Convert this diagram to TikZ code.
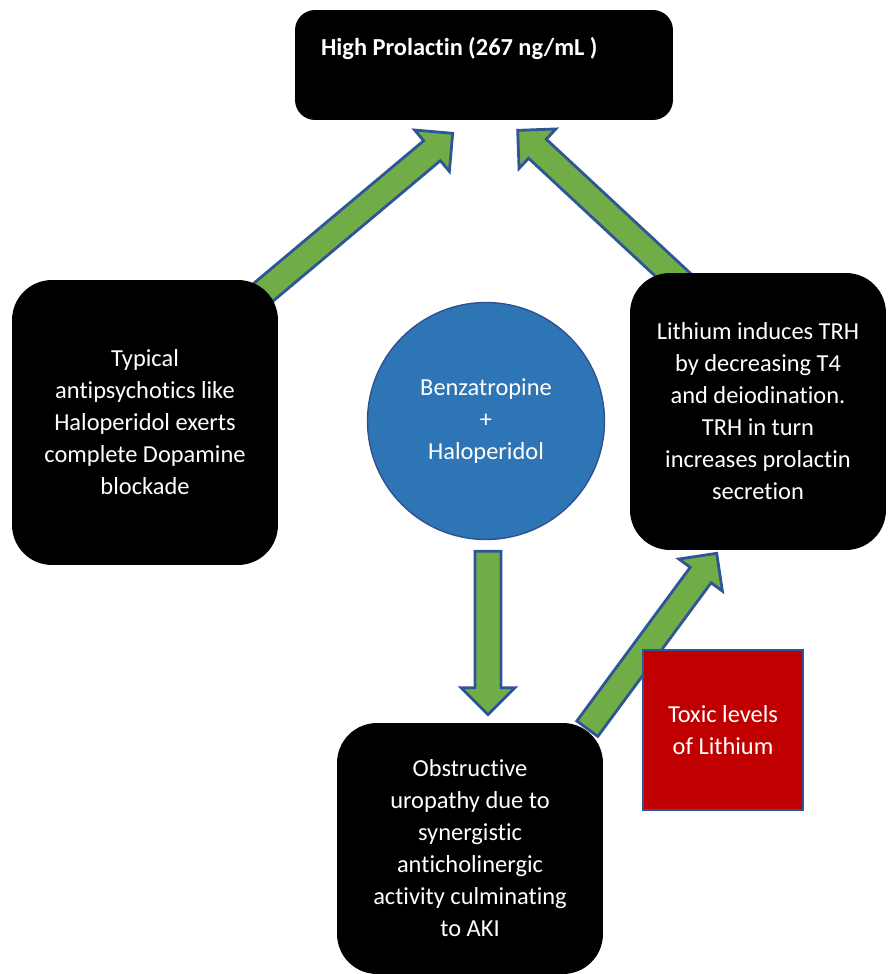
\documentclass[tikz,border=0pt]{standalone}
\usepackage{fontspec}
\setmainfont{Carlito}[Ligatures=NoCommon]
\usetikzlibrary{calc,backgrounds}

\definecolor{arrowgreen}{HTML}{70AD47}
\definecolor{arrowrim}{HTML}{2F5597}
\definecolor{drugblue}{HTML}{2E75B6}
\definecolor{drugrim}{HTML}{2F528F}
\definecolor{toxicred}{HTML}{C00000}

\newcommand{\boxfont}{\fontsize{13.9}{18.2}\selectfont}

% block arrow: #1 = how far the tail goes back, #2 = tail, #3 = tip
\newcommand{\fatarrow}[3]{%
  \coordinate (fa-s) at ($(#2)!-#1!(#3)$);
  \coordinate (fa-h) at ($(#3)!0.54cm!(fa-s)$);
  \draw[fatarrow] ($(fa-s)!0.26cm!90:(#3)$) -- ($(fa-h)!0.26cm!90:(#3)$)
    -- ($(fa-h)!0.54cm!90:(#3)$) -- (#3)
    -- ($(fa-h)!0.54cm!-90:(#3)$) -- ($(fa-h)!0.26cm!-90:(#3)$)
    -- ($(fa-s)!0.26cm!-90:(#3)$) -- cycle;}

\begin{document}
\begin{tikzpicture}[x=0.02cm, y=-0.02cm,
    darkbox/.style={rectangle, rounded corners=0.8cm, fill=black, text=white, align=center, font=\boxfont},
    drugcircle/.style={circle, fill=drugblue, draw=drugrim, line width=0.8pt, text=white, align=center, font=\boxfont},
    toxicbox/.style={rectangle, fill=toxicred, draw=arrowrim, line width=0.8pt, text=white, align=center, font=\boxfont},
    fatarrow/.style={fill=arrowgreen, draw=arrowrim, line width=1.6pt}]

    \useasboundingbox (0,0) rectangle (887,974);

    % Effect on top
    \node [darkbox, rounded corners=0.4cm, minimum width=7.56cm, minimum height=2.2cm,
        text width=6.52cm, align=left, inner xsep=0.52cm, inner ysep=0pt,
        text height=0.9cm, text depth=1.3cm, font=\boxfont\bfseries] (prolactin) at (484,65) {\spaceskip=0.22em\relax High Prolactin (267 ng/mL )};

    % Causes
    \node [darkbox, minimum width=5.32cm, minimum height=5.7cm] (antipsy) at (145,422.5)
        {Typical\\antipsychotics like\\Haloperidol exerts\\complete Dopamine\\blockade};
    \node [drugcircle, minimum size=4.74cm] (drugs) at (486,421) {Benzatropine\\+\\Haloperidol};
    \node [darkbox, minimum width=5.12cm, minimum height=5.54cm] (lithium) at (758,411.5)
        {Lithium induces TRH\\by decreasing T4\\and deiodination.\\TRH in turn\\increases prolactin\\secretion};
    \node [darkbox, minimum width=5.32cm, minimum height=5.02cm] (aki) at (470,848.5)
        {Obstructive\\uropathy due to\\synergistic\\anticholinergic\\activity culminating\\to AKI};
    \node [toxicbox, minimum width=3.2cm, minimum height=3.2cm] (toxic) at (723,730) {Toxic levels\\of Lithium};

    % Arrow ends
    \coordinate (a1-tip) at ($(prolactin.south west)+(158,13)$);
    \coordinate (a2-tail) at ($(lithium.north west)+(41,0)$);
    \coordinate (a2-tip) at ($(prolactin.south west)+(223,10)$);
    \coordinate (a3-tail) at ($(drugs.south)+(2,11)$);
    \coordinate (a3-tip) at ($(drugs.south |- aki.north)+(2,-8)$);
    \coordinate (a4-tail) at ($(aki.north east)+(-16,6)$);
    \coordinate (a4-tip) at ($(lithium.south west)+(87,3)$);

    % Block arrows, behind the boxes
    \begin{scope}[on background layer]
        \fatarrow{0.6cm}{antipsy.north east}{a1-tip}
        \fatarrow{0.7cm}{a2-tail}{a2-tip}
        \fatarrow{0pt}{a3-tail}{a3-tip}
        \fatarrow{0pt}{a4-tail}{a4-tip}
    \end{scope}

\end{tikzpicture}
\end{document}
